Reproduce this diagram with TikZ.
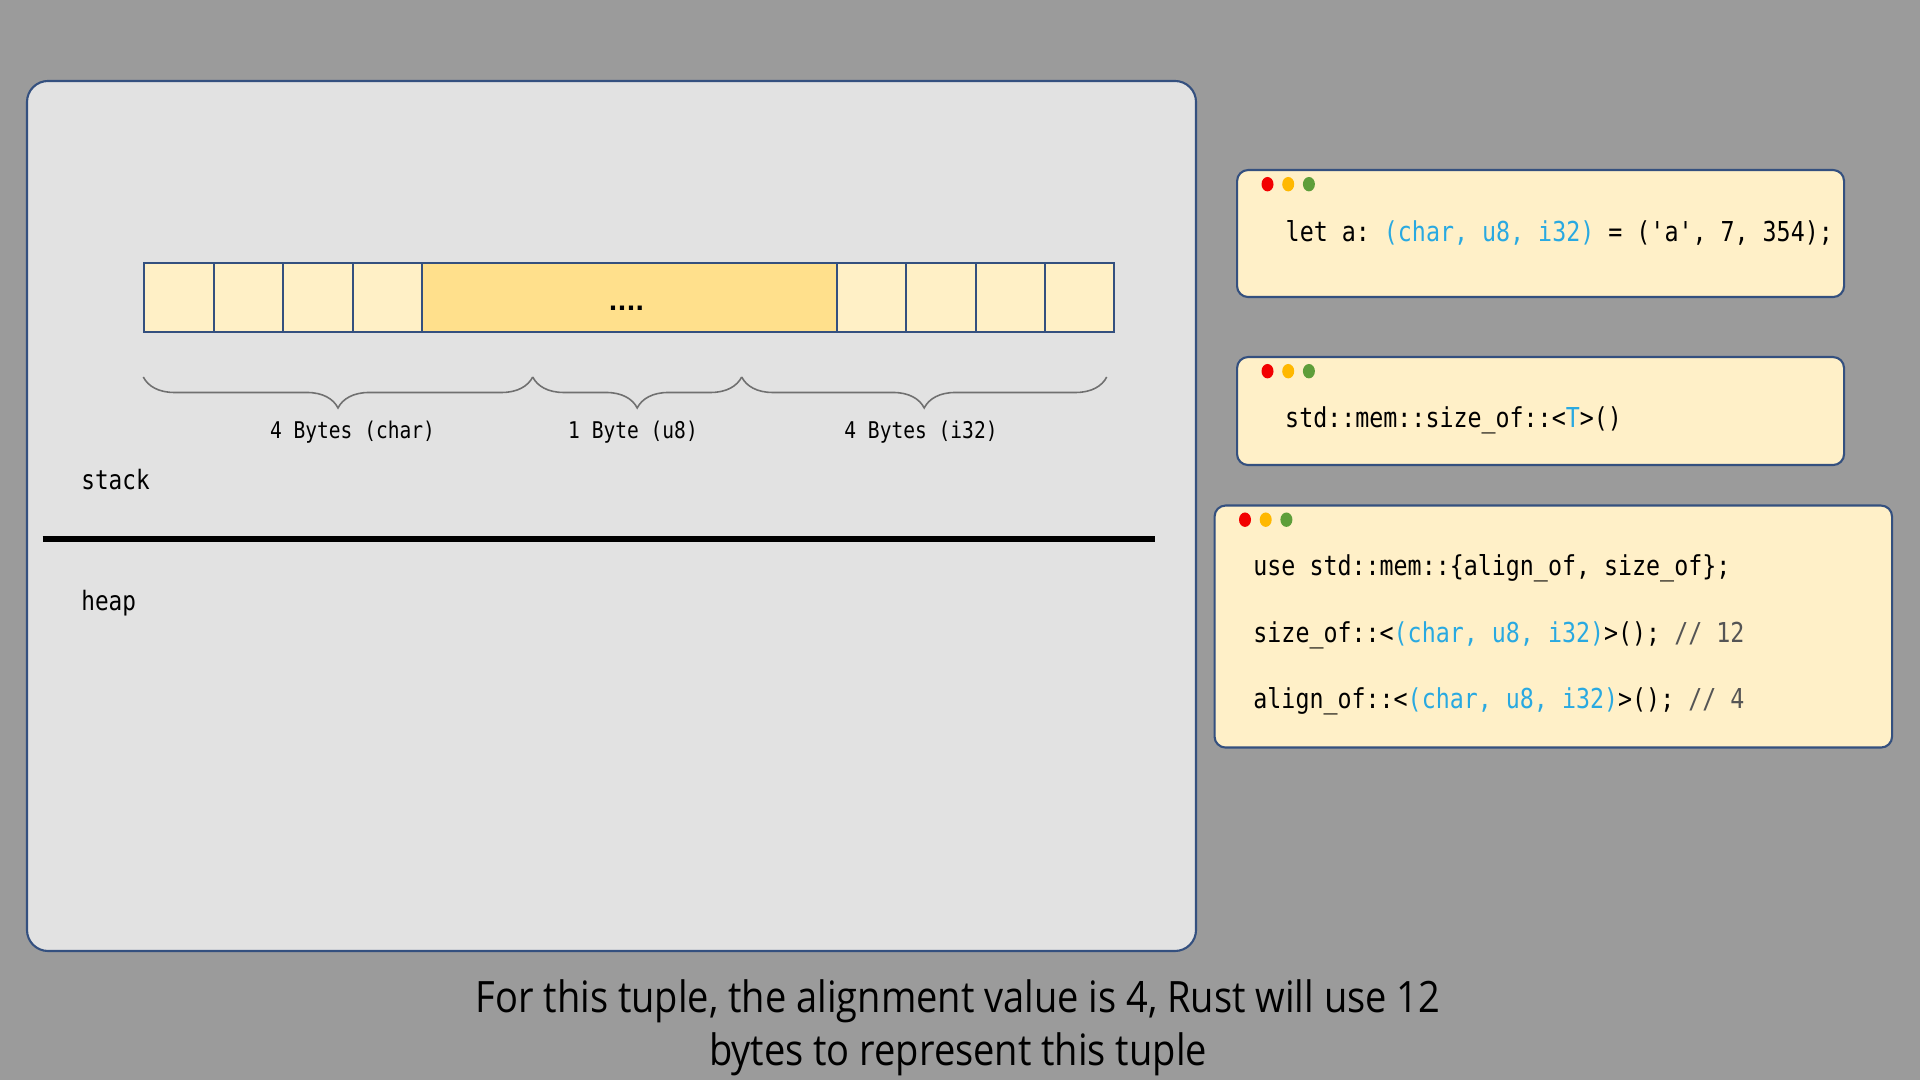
\documentclass[tikz,border=0pt]{standalone}
\usepackage{fontspec}
\setmainfont{Open Sans}
\setmonofont[FakeStretch=0.85]{DejaVu Sans Mono}
\newfontfamily\capfont[FakeStretch=0.88]{Open Sans}
\newfontfamily\padfont{DejaVu Sans}
\usetikzlibrary{decorations.pathreplacing}

\definecolor{slidegray}{HTML}{9B9B9B}
\definecolor{panelgray}{HTML}{E2E2E2}
\definecolor{edgeblue}{HTML}{34507F}
\definecolor{celllight}{HTML}{FFF0C6}
\definecolor{celldark}{HTML}{FFE08C}
\definecolor{codebg}{HTML}{FFF0C8}
\definecolor{codeblue}{HTML}{29A9E1}
\definecolor{bracegray}{HTML}{707070}
\definecolor{commentgray}{HTML}{555555}
\definecolor{dotred}{HTML}{F20000}
\definecolor{dotorange}{HTML}{FFB800}
\definecolor{dotgreen}{HTML}{5E9E3A}

\newcommand{\codefont}{\ttfamily\fontsize{7.8}{9}\selectfont}
\newcommand{\bytefont}{\ttfamily\fontsize{6.55}{8}\selectfont}
\newcommand{\tys}[1]{\textcolor{codeblue}{#1}}

\tikzset{
  cell/.style={draw=edgeblue, line width=0.6pt, fill=celllight,
    minimum width=0.694cm, minimum height=0.69cm, inner sep=0pt, anchor=west},
  bytebrace/.style={decorate, decoration={brace, mirror, amplitude=0.31cm},
    draw=bracegray, line width=0.45pt},
  bytelabel/.style={font=\bytefont, inner sep=0pt},
  codebox/.style={draw=edgeblue, line width=0.6pt, fill=codebg,
    rounded corners=0.11cm, inner sep=0pt, anchor=north west},
  codeline/.style={font=\codefont, anchor=west, inner sep=0pt}
}

\begin{document}
\begin{tikzpicture}
\useasboundingbox (0,0) rectangle (19.2,10.8);
\fill[slidegray] (0,0) rectangle (19.2,10.8);

% memory panel
\draw[draw=edgeblue, line width=0.6pt, fill=panelgray, rounded corners=0.21cm]
  (0.27,1.29) rectangle (11.96,9.99);

\foreach \i in {1,...,4}
  \node[cell] (char\i) at ({1.433+(\i-1)*0.695},7.825) {};
\node[cell, fill=celldark, minimum width=4.147cm] (pad) at (4.213,7.825) {};
\foreach \i in {1,...,4}
  \node[cell] (int\i) at ({8.36+(\i-1)*0.693},7.825) {};
\node[font=\padfont\bfseries\fontsize{6.7}{7}\selectfont, inner sep=0pt] (dots) at (6.265,7.72) {....};

\coordinate (brA) at (1.433,7.03);
\coordinate (brB) at (5.327,7.03);
\coordinate (brC) at (7.417,7.03);
\coordinate (brD) at (11.067,7.03);
\draw[bytebrace] (brA) -- (brB);
\draw[bytebrace] (brB) -- (brC);
\draw[bytebrace] (brC) -- (brD);
\node[bytelabel] (charlbl) at (3.525,6.48) {4 Bytes (char)};
\node[bytelabel] (u8lbl) at (6.33,6.48) {1 Byte (u8)};
\node[bytelabel] (i32lbl) at (9.21,6.48) {4 Bytes (i32)};

\node[font=\ttfamily\fontsize{7.6}{9}\selectfont, anchor=base west, inner sep=0pt] (stack) at (0.807,5.90) {stack};
\draw[line width=1.7pt] (0.427,5.407) -- (11.55,5.407);
\node[font=\ttfamily\fontsize{7.6}{9}\selectfont, anchor=base west, inner sep=0pt] (heap) at (0.807,4.693) {heap};

% code windows
\node[codebox, minimum width=6.07cm, minimum height=1.27cm] (letbox) at (12.36,9.11) {};
\node[codebox, minimum width=6.07cm, minimum height=1.08cm] (sizebox) at (12.36,7.24) {};
\node[codebox, minimum width=6.775cm, minimum height=2.42cm] (alignbox) at (12.135,5.755) {};
\foreach \b in {letbox,sizebox,alignbox} {
  \fill[dotred] ([shift={(0.315,-0.152)}]\b.north west) ellipse (0.06 and 0.072);
  \fill[dotorange] ([shift={(0.522,-0.152)}]\b.north west) ellipse (0.06 and 0.072);
  \fill[dotgreen] ([shift={(0.729,-0.152)}]\b.north west) ellipse (0.06 and 0.072);
}

\node[codeline] (letline) at (12.85,8.473) {let a: \tys{(char, u8, i32)} = ('a', 7, 354);};
\node[codeline] (sizeline) at (12.845,6.60) {std::mem::size\_of::<\tys{T}>()};
\node[codeline] (useline) at (12.527,5.12) {use std::mem::\{align\_of, size\_of\};};
\node[codeline] (sizeofline) at (12.527,4.445) {size\_of::<\tys{(char, u8, i32)}>(); \textcolor{commentgray}{// 12}};
\node[codeline] (alignofline) at (12.527,3.783) {align\_of::<\tys{(char, u8, i32)}>(); \textcolor{commentgray}{// 4}};

% caption
\node[align=center, font=\capfont\fontsize{12.3}{15}\selectfont, inner sep=0pt] (caption) at (9.58,0.52)
  {For this tuple, the alignment value is 4, Rust will use 12\\bytes to represent this tuple};
\end{tikzpicture}
\end{document}
